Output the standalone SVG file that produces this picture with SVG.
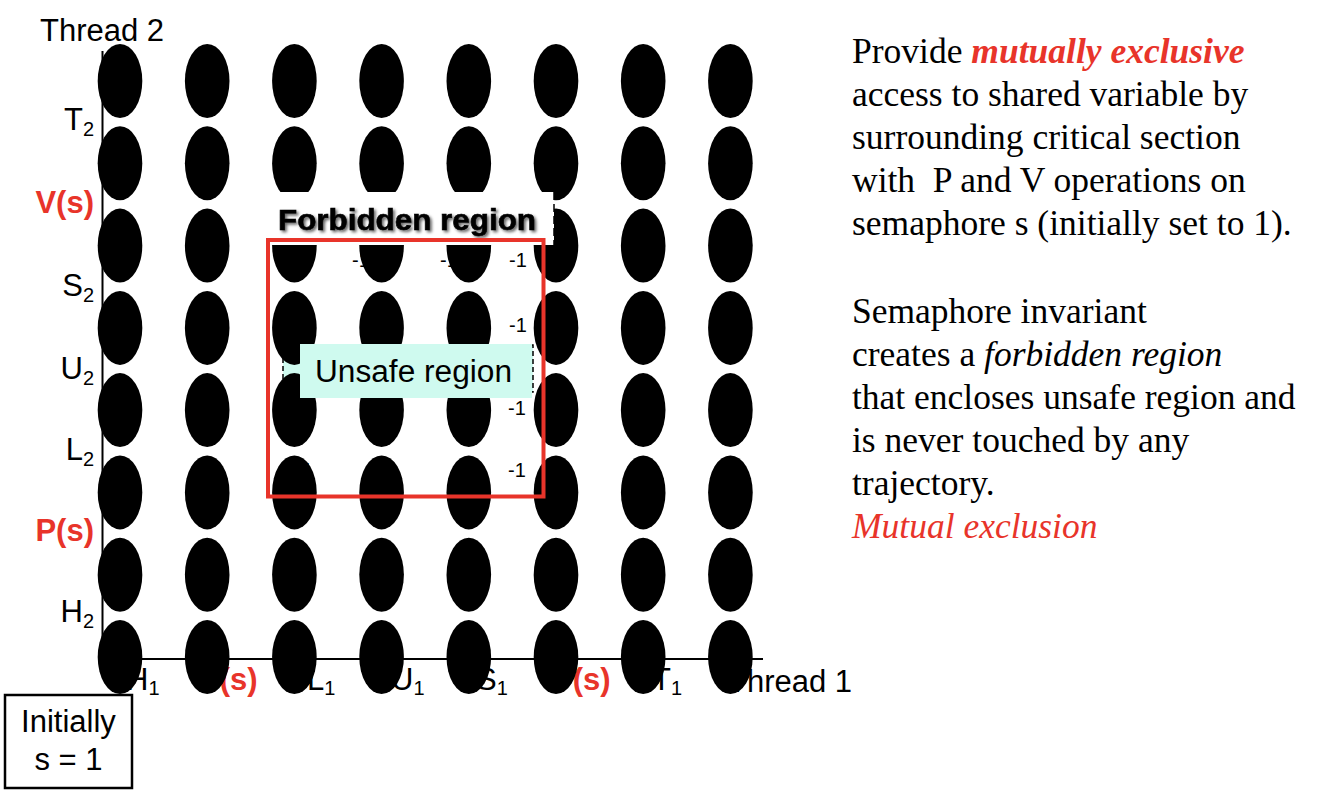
<svg xmlns="http://www.w3.org/2000/svg" width="1334" height="798" viewBox="0 0 1334 798">
<style>
.lab{font-family:"Liberation Sans",Arial,sans-serif;font-size:31px;fill:#000}
.red{fill:#e8342a;font-weight:bold}
.sub{font-size:20px}
.m1{font-family:"Liberation Sans",Arial,sans-serif;font-size:20px;fill:#000}
.dot{fill:#000}
.rt{font-family:"Liberation Serif","Times New Roman",serif;font-size:35.5px;fill:#000}
.rt-red{fill:#e8342a}
</style>
<defs>
<filter id="sh" x="-10%" y="-30%" width="120%" height="160%">
<feDropShadow dx="2" dy="2" stdDeviation="1.5" flood-color="#000" flood-opacity="0.6"/>
</filter>
</defs>
<rect x="0" y="0" width="1334" height="798" fill="#fff"/>

<g id="axis-labels">
<text class="lab" x="40" y="41">Thread 2</text>
<text class="lab" x="94" y="130" text-anchor="end">T<tspan class="sub" dy="6">2</tspan></text>
<text class="lab red" x="94" y="213" text-anchor="end">V(s)</text>
<text class="lab" x="94" y="296" text-anchor="end">S<tspan class="sub" dy="6">2</tspan></text>
<text class="lab" x="94" y="379" text-anchor="end">U<tspan class="sub" dy="6">2</tspan></text>
<text class="lab" x="94" y="460" text-anchor="end">L<tspan class="sub" dy="6">2</tspan></text>
<text class="lab red" x="94" y="541" text-anchor="end">P(s)</text>
<text class="lab" x="94" y="622" text-anchor="end">H<tspan class="sub" dy="6">2</tspan></text>

<text class="lab" x="126" y="690">H<tspan class="sub" dy="5">1</tspan></text>
<text class="lab red" x="199" y="690">P(s)</text>
<text class="lab" x="307" y="690">L<tspan class="sub" dy="5">1</tspan></text>
<text class="lab" x="391" y="690">U<tspan class="sub" dy="5">1</tspan></text>
<text class="lab" x="476" y="690">S<tspan class="sub" dy="5">1</tspan></text>
<text class="lab red" x="552" y="690">V(s)</text>
<text class="lab" x="652" y="690">T<tspan class="sub" dy="5">1</tspan></text>
<text class="lab" x="728" y="692">Thread 1</text>
</g>

<g id="values">
<text class="m1" x="352" y="267">-1</text>
<text class="m1" x="440" y="267">-1</text>
<text class="m1" x="509" y="267">-1</text>
<text class="m1" x="509" y="332">-1</text>
<text class="m1" x="508" y="415">-1</text>
<text class="m1" x="508" y="477">-1</text>
<text class="m1" x="295" y="477">-1</text>
</g>

<g id="unsafe-area">
<rect x="283" y="345" width="250" height="47" fill="#cffaef" stroke="#000" stroke-width="1.5" stroke-dasharray="5,3"/>
</g>

<g id="axes">
<line x1="102.5" y1="51" x2="102.5" y2="660" stroke="#000" stroke-width="2"/>
<line x1="102" y1="659" x2="763" y2="659" stroke="#000" stroke-width="2"/>
</g>

<g id="grid-points">
<g id="row1">
<ellipse class="dot" cx="120" cy="81" rx="22.3" ry="37"/><ellipse class="dot" cx="207.2" cy="81" rx="22.3" ry="37"/><ellipse class="dot" cx="294.4" cy="81" rx="22.3" ry="37"/><ellipse class="dot" cx="381.6" cy="81" rx="22.3" ry="37"/><ellipse class="dot" cx="468.8" cy="81" rx="22.3" ry="37"/><ellipse class="dot" cx="556" cy="81" rx="22.3" ry="37"/><ellipse class="dot" cx="643.2" cy="81" rx="22.3" ry="37"/><ellipse class="dot" cx="730.4" cy="81" rx="22.3" ry="37"/>
</g>
<g id="row2">
<ellipse class="dot" cx="120" cy="163.3" rx="22.3" ry="37"/><ellipse class="dot" cx="207.2" cy="163.3" rx="22.3" ry="37"/><ellipse class="dot" cx="294.4" cy="163.3" rx="22.3" ry="37"/><ellipse class="dot" cx="381.6" cy="163.3" rx="22.3" ry="37"/><ellipse class="dot" cx="468.8" cy="163.3" rx="22.3" ry="37"/><ellipse class="dot" cx="556" cy="163.3" rx="22.3" ry="37"/><ellipse class="dot" cx="643.2" cy="163.3" rx="22.3" ry="37"/><ellipse class="dot" cx="730.4" cy="163.3" rx="22.3" ry="37"/>
</g>
<g id="row3">
<ellipse class="dot" cx="120" cy="245.6" rx="22.3" ry="37"/><ellipse class="dot" cx="207.2" cy="245.6" rx="22.3" ry="37"/><ellipse class="dot" cx="294.4" cy="245.6" rx="22.3" ry="37"/><ellipse class="dot" cx="381.6" cy="245.6" rx="22.3" ry="37"/><ellipse class="dot" cx="468.8" cy="245.6" rx="22.3" ry="37"/><ellipse class="dot" cx="556" cy="245.6" rx="22.3" ry="37"/><ellipse class="dot" cx="643.2" cy="245.6" rx="22.3" ry="37"/><ellipse class="dot" cx="730.4" cy="245.6" rx="22.3" ry="37"/>
</g>
<g id="row4">
<ellipse class="dot" cx="120" cy="327.9" rx="22.3" ry="37"/><ellipse class="dot" cx="207.2" cy="327.9" rx="22.3" ry="37"/><ellipse class="dot" cx="294.4" cy="327.9" rx="22.3" ry="37"/><ellipse class="dot" cx="381.6" cy="327.9" rx="22.3" ry="37"/><ellipse class="dot" cx="468.8" cy="327.9" rx="22.3" ry="37"/><ellipse class="dot" cx="556" cy="327.9" rx="22.3" ry="37"/><ellipse class="dot" cx="643.2" cy="327.9" rx="22.3" ry="37"/><ellipse class="dot" cx="730.4" cy="327.9" rx="22.3" ry="37"/>
</g>
<g id="row5">
<ellipse class="dot" cx="120" cy="410.1" rx="22.3" ry="37"/><ellipse class="dot" cx="207.2" cy="410.1" rx="22.3" ry="37"/><ellipse class="dot" cx="294.4" cy="410.1" rx="22.3" ry="37"/><ellipse class="dot" cx="381.6" cy="410.1" rx="22.3" ry="37"/><ellipse class="dot" cx="468.8" cy="410.1" rx="22.3" ry="37"/><ellipse class="dot" cx="556" cy="410.1" rx="22.3" ry="37"/><ellipse class="dot" cx="643.2" cy="410.1" rx="22.3" ry="37"/><ellipse class="dot" cx="730.4" cy="410.1" rx="22.3" ry="37"/>
</g>
<g id="row6">
<ellipse class="dot" cx="120" cy="492.4" rx="22.3" ry="37"/><ellipse class="dot" cx="207.2" cy="492.4" rx="22.3" ry="37"/><ellipse class="dot" cx="294.4" cy="492.4" rx="22.3" ry="37"/><ellipse class="dot" cx="381.6" cy="492.4" rx="22.3" ry="37"/><ellipse class="dot" cx="468.8" cy="492.4" rx="22.3" ry="37"/><ellipse class="dot" cx="556" cy="492.4" rx="22.3" ry="37"/><ellipse class="dot" cx="643.2" cy="492.4" rx="22.3" ry="37"/><ellipse class="dot" cx="730.4" cy="492.4" rx="22.3" ry="37"/>
</g>
<g id="row7">
<ellipse class="dot" cx="120" cy="574.7" rx="22.3" ry="37"/><ellipse class="dot" cx="207.2" cy="574.7" rx="22.3" ry="37"/><ellipse class="dot" cx="294.4" cy="574.7" rx="22.3" ry="37"/><ellipse class="dot" cx="381.6" cy="574.7" rx="22.3" ry="37"/><ellipse class="dot" cx="468.8" cy="574.7" rx="22.3" ry="37"/><ellipse class="dot" cx="556" cy="574.7" rx="22.3" ry="37"/><ellipse class="dot" cx="643.2" cy="574.7" rx="22.3" ry="37"/><ellipse class="dot" cx="730.4" cy="574.7" rx="22.3" ry="37"/>
</g>
<g id="row8">
<ellipse class="dot" cx="120" cy="657" rx="22.3" ry="37"/><ellipse class="dot" cx="207.2" cy="657" rx="22.3" ry="37"/><ellipse class="dot" cx="294.4" cy="657" rx="22.3" ry="37"/><ellipse class="dot" cx="381.6" cy="657" rx="22.3" ry="37"/><ellipse class="dot" cx="468.8" cy="657" rx="22.3" ry="37"/><ellipse class="dot" cx="556" cy="657" rx="22.3" ry="37"/><ellipse class="dot" cx="643.2" cy="657" rx="22.3" ry="37"/><ellipse class="dot" cx="730.4" cy="657" rx="22.3" ry="37"/>
</g>
</g>

<g id="forbidden-label">
<rect x="262" y="192" width="292" height="53" fill="#fff"/>
<line x1="554" y1="192" x2="554" y2="245" stroke="#000" stroke-width="1.5" stroke-dasharray="8,4"/>
<text x="278" y="230" font-family="'Liberation Sans',Arial,sans-serif" font-size="29" font-weight="bold" stroke="#000" stroke-width="0.6" textLength="258" lengthAdjust="spacingAndGlyphs" filter="url(#sh)">Forbidden region</text>
</g>

<g id="forbidden-region">
<rect x="268" y="240" width="275.5" height="256.5" fill="none" stroke="#e8342a" stroke-width="4"/>
</g>

<g id="unsafe-label">
<rect x="300" y="344" width="232" height="54" fill="#cffaef"/>
<text class="lab" x="315" y="382" textLength="197" lengthAdjust="spacingAndGlyphs">Unsafe region</text>
</g>

<g id="initially">
<rect x="5" y="695" width="127" height="93" fill="#fff" stroke="#000" stroke-width="2.5"/>
<text class="lab" x="68.5" y="732" text-anchor="middle">Initially</text>
<text class="lab" x="68.5" y="770" text-anchor="middle">s = 1</text>
</g>

<g id="description">
<text class="rt" x="852" y="63">Provide <tspan class="rt-red" font-weight="bold" font-style="italic">mutually exclusive</tspan></text>
<text class="rt" x="852" y="106">access to shared variable by</text>
<text class="rt" x="852" y="149">surrounding critical section</text>
<text class="rt" x="852" y="192" xml:space="preserve">with  P and V operations on</text>
<text class="rt" x="852" y="235">semaphore s (initially set to 1).</text>
<text class="rt" x="852" y="323">Semaphore invariant</text>
<text class="rt" x="852" y="366">creates a <tspan font-style="italic">forbidden region</tspan></text>
<text class="rt" x="852" y="409">that encloses unsafe region and</text>
<text class="rt" x="852" y="452">is never touched by any</text>
<text class="rt" x="852" y="495">trajectory.</text>
<text class="rt rt-red" x="852" y="538" font-style="italic">Mutual exclusion</text>
</g>
</svg>
